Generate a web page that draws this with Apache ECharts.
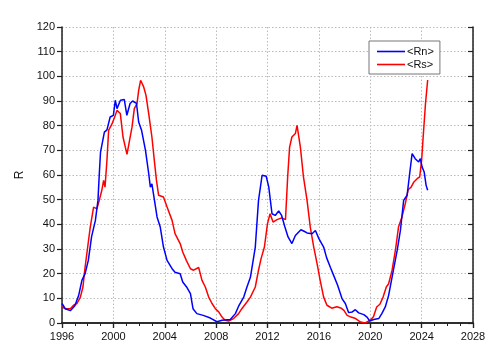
<!DOCTYPE html>
<html><head><meta charset="utf-8">
<script src="https://cdn.jsdelivr.net/npm/echarts@6/dist/echarts.min.js"></script>
<style>html,body{margin:0;padding:0;background:#fff}#c{width:500px;height:360px}</style>
</head><body><div id="c"></div>
<script>
const rnYears = [1996.0,1996.25,1996.65,1997.0,1997.3,1997.55,1997.8,1998.05,1998.3,1998.6,1998.8,1998.9,1999.0,1999.1,1999.3,1999.5,1999.75,2000.0,2000.15,2000.28,2000.55,2000.85,2001.05,2001.3,2001.5,2001.8,2001.97,2002.2,2002.5,2002.75,2002.88,2003.0,2003.2,2003.4,2003.65,2003.9,2004.18,2004.57,2004.8,2005.2,2005.4,2005.7,2006.0,2006.2,2006.5,2007.0,2007.55,2008.07,2008.46,2009.1,2009.5,2009.75,2010.15,2010.4,2010.67,2011.05,2011.3,2011.58,2011.9,2012.1,2012.35,2012.6,2012.87,2013.1,2013.35,2013.6,2013.9,2014.17,2014.6,2014.85,2015.08,2015.47,2015.73,2016.0,2016.37,2016.6,2016.9,2017.15,2017.46,2017.8,2018.06,2018.32,2018.6,2018.84,2019.1,2019.5,2019.75,2019.96,2020.27,2020.66,2020.9,2021.17,2021.43,2021.7,2022.1,2022.35,2022.6,2022.87,2023.07,2023.26,2023.5,2023.77,2023.9,2024.04,2024.2,2024.35,2024.47];
const rnValues = [7.9,5.8,5.0,7.0,11.2,17.3,20,25.4,34.9,41.6,49.7,60,69.3,69.8,77.4,78.3,83.5,84.2,90.3,86.9,90.3,90.6,84.2,89,90,89,81.5,78,70,60.6,55.1,56.4,49.7,43,38.9,30.8,25.4,22,20.6,20,16.6,14.6,11.9,5.8,3.8,3.1,2.0,0.5,1.1,1.4,3.8,6.8,10.5,14.6,18.5,30.8,49.7,59.9,59.5,55.1,44.3,43.6,45.4,43.6,39,34.9,32.2,35.5,37.8,37.2,36.5,36.2,37.5,34.2,30.8,26.5,22.5,19.3,15.3,9.9,7.9,4.2,4.5,5.4,4.1,3.4,2.4,0.8,1.4,1.8,3.8,6.5,11.2,18.6,29.5,37.6,49.7,51.8,60.6,68.7,66.6,65.3,66.6,63.2,61.2,55.8,53.8];
const rsYears = [1996.0,1996.25,1996.65,1996.9,1997.17,1997.43,1997.63,1997.8,1998.0,1998.2,1998.46,1998.72,1998.9,1999.1,1999.24,1999.35,1999.5,1999.63,1999.9,2000.15,2000.28,2000.54,2000.75,2000.93,2001.06,2001.26,2001.45,2001.63,2001.84,2001.97,2002.12,2002.36,2002.54,2002.75,2003.0,2003.2,2003.35,2003.52,2003.9,2004.18,2004.57,2004.8,2005.2,2005.4,2005.68,2006.0,2006.25,2006.64,2006.9,2007.16,2007.42,2007.68,2007.94,2008.2,2008.46,2008.7,2008.97,2009.36,2009.75,2010.0,2010.4,2010.67,2011.05,2011.3,2011.5,2011.76,2012.0,2012.2,2012.43,2012.74,2013.1,2013.4,2013.57,2013.72,2013.9,2014.17,2014.3,2014.56,2014.8,2015.08,2015.33,2015.6,2015.86,2016.1,2016.37,2016.63,2017.0,2017.4,2017.7,2017.95,2018.2,2018.5,2018.86,2019.25,2019.6,2020.0,2020.25,2020.5,2020.75,2021.0,2021.25,2021.43,2021.7,2021.96,2022.2,2022.47,2022.73,2022.95,2023.18,2023.4,2023.65,2023.85,2024.0,2024.12,2024.3,2024.47];
const rsValues = [6.5,5.8,5.8,7.2,7.9,10.5,14.6,22.7,30.8,38.9,47,46.3,49.7,53.8,57.8,55.1,66,78.1,80.8,84.2,86.2,84.9,75.4,71.3,68.4,74,79.4,86.9,88.9,94.3,98.4,95.7,92.3,84.9,75.4,65.3,58,51.8,51.1,47,41.6,36.2,32.2,28.8,25.4,22,21.4,22.5,17.3,14.6,10.5,7.9,5.8,4.5,2.4,1.1,0.8,1.8,3.8,5.8,8.5,10.5,14.6,21.4,26.1,30.8,40.3,44.3,40.9,41.9,42.6,41.9,59.2,71.3,75.4,76.8,80.1,71.3,59.2,49.7,38.9,30.8,24.1,17.3,10.5,7.2,6.0,6.6,6.1,5.1,3.1,2.4,1.8,0.4,0,1.1,2.5,6.5,7.6,10.5,14.6,15.9,21.4,29.5,38.9,43,48.4,54,55.1,57.2,58.5,59.2,66,75.4,88.9,98.5];
const seriesNames = ['<Rn>', '<Rs>'];
const yAxisName = 'R';

const pair = (xs, ys) => xs.map((x, i) => [x, ys[i]]);
const font = 'Liberation Sans, Arial, sans-serif';
const axisLine = {show: true, lineStyle: {color: '#222', width: 1.5}};
const grid = {show: true, lineStyle: {color: '#bbb', type: [1.5, 2], width: 1}};

const chart = echarts.init(document.getElementById('c'));
chart.setOption({
  animation: false,
  backgroundColor: '#fff',
  grid: {left: 62, right: 27, top: 27, bottom: 37},
  legend: {
    orient: 'vertical', left: 369, top: 41, width: 73,
    padding: [5, 6, 4, 8], itemGap: 2,
    icon: 'rect', itemWidth: 28, itemHeight: 1.6,
    borderColor: '#777', borderWidth: 1, backgroundColor: '#fff',
    textStyle: {fontFamily: font, fontSize: 11, color: '#111', padding: [0, 0, 0, -3], lineHeight: 9},
    data: seriesNames
  },
  xAxis: [{
    type: 'value', min: 1996, max: 2028, interval: 4,
    axisLine: axisLine,
    axisTick: {show: true, inside: false, length: 5, lineStyle: {color: '#222', width: 1.2}},
    minorTick: {show: true, splitNumber: 4, length: 3, lineStyle: {color: '#222', width: 1}},
    axisLabel: {fontFamily: font, fontSize: 11, color: '#111', margin: 8, formatter: v => String(v)},
    splitLine: grid
  }, {
    type: 'value', min: 1996, max: 2028, interval: 4, position: 'top',
    axisLine: axisLine,
    axisTick: {show: true, inside: true, length: 5, lineStyle: {color: '#222', width: 1.2}},
    minorTick: {show: true, splitNumber: 4, length: 3, lineStyle: {color: '#222', width: 1}},
    axisLabel: {show: false}, splitLine: {show: false}
  }],
  yAxis: [{
    type: 'value', min: 0, max: 120, interval: 10,
    name: yAxisName, nameLocation: 'middle', nameGap: 34, nameRotate: 90,
    nameTextStyle: {fontFamily: font, fontSize: 12, color: '#111'},
    axisLine: axisLine,
    axisTick: {show: true, inside: false, length: 5, lineStyle: {color: '#222', width: 1.2}},
    axisLabel: {fontFamily: font, fontSize: 11, color: '#111', margin: 7},
    splitLine: grid
  }, {
    type: 'value', min: 0, max: 120, interval: 10, position: 'right',
    axisLine: axisLine,
    axisTick: {show: true, inside: true, length: 5, lineStyle: {color: '#222', width: 1.2}},
    axisLabel: {show: false}, splitLine: {show: false}
  }],
  series: [
    {name: seriesNames[0], type: 'line', data: pair(rnYears, rnValues), symbol: 'none',
     lineStyle: {color: '#0000ff', width: 1.5}, itemStyle: {color: '#0000ff'}, z: 3},
    {name: seriesNames[1], type: 'line', data: pair(rsYears, rsValues), symbol: 'none',
     lineStyle: {color: '#ff0000', width: 1.5}, itemStyle: {color: '#ff0000'}, z: 2}
  ]
});
</script></body></html>
